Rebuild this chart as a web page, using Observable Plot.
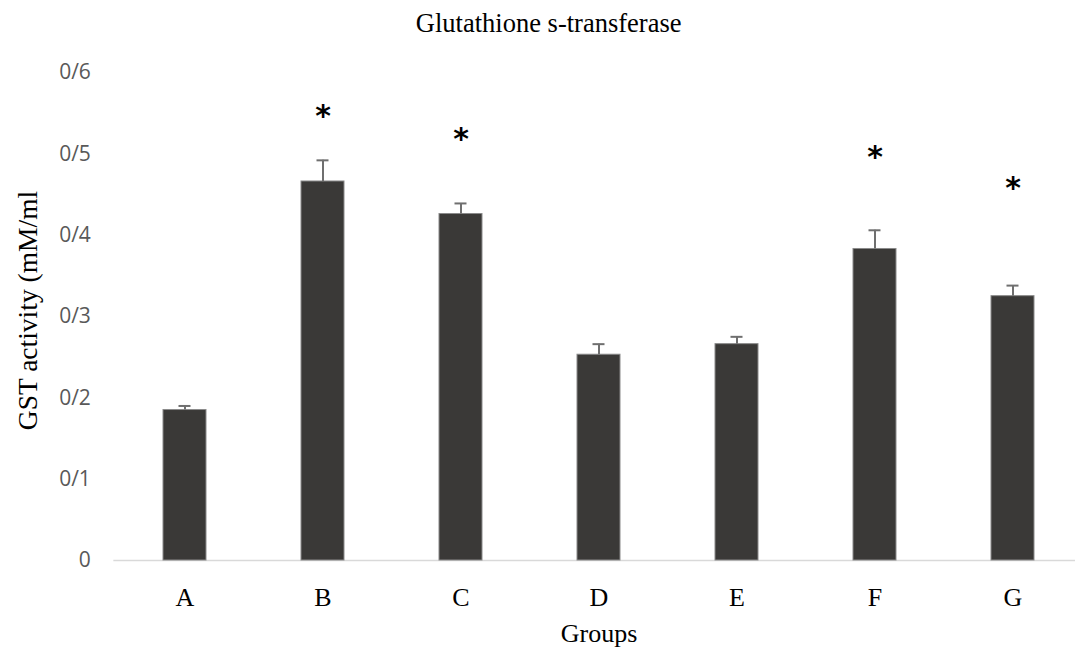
<!DOCTYPE html>
<html>
<head>
<meta charset="utf-8">
<script src="https://cdn.jsdelivr.net/npm/d3@7"></script>
<script src="https://cdn.jsdelivr.net/npm/@observablehq/plot@0.6"></script>
<style>
  html, body { margin: 0; padding: 0; background: #fff; }
  #chart svg { display: block; }
</style>
</head>
<body>
<div id="chart"></div>
<script>
const titleText = "Glutathione s-transferase";
const yLabel = "GST activity (mM/ml";
const xLabel = "Groups";
const groups = ["A", "B", "C", "D", "E", "F", "G"];
const means = [0.185, 0.466, 0.426, 0.253, 0.266, 0.383, 0.325];
const errors = [0.005, 0.026, 0.013, 0.013, 0.009, 0.023, 0.013];
const starGroups = ["B", "C", "F", "G"];
const starLevels = [0.553, 0.525, 0.502, 0.464];
const yTicks = [0, 0.1, 0.2, 0.3, 0.4, 0.5, 0.6];
const yTickLabels = ["0", "0/1", "0/2", "0/3", "0/4", "0/5", "0/6"];

const data = groups.map((g, i) => ({group: g, mean: means[i], top: means[i] + errors[i]}));
const stars = starGroups.map((g, i) => ({group: g, level: starLevels[i], label: "*"}));

const serif = "'Liberation Serif', 'Times New Roman', serif";
const sans = "'Open Sans', 'Noto Sans', sans-serif";

const chart = Plot.plot({
  width: 1075,
  height: 648,
  marginLeft: 113.35,
  marginRight: 0,
  marginTop: 72,
  marginBottom: 88,
  style: {background: "#fff", overflow: "visible"},
  x: {domain: groups, range: [113.35, 1084.3], paddingInner: 0.69, paddingOuter: 0.345, align: 0.5},
  y: {domain: [0, 0.6]},
  marks: [
    Plot.ruleY([0], {stroke: "#d9d9d9", strokeWidth: 1.5}),
    Plot.barY(data, {x: "group", y: "mean", fill: "#3a3937", stroke: "#8a8a8a", strokeWidth: 1}),
    Plot.ruleX(data, {x: "group", y1: "mean", y2: "top", stroke: "#6f6f6f", strokeWidth: 2}),
    Plot.tickY(data, {x: "group", y: "top", stroke: "#6f6f6f", strokeWidth: 2, insetLeft: 15.5, insetRight: 15.5}),
    Plot.text(stars, {x: "group", y: "level", text: "label", fontFamily: "'DejaVu Sans', sans-serif", fontWeight: "bold", fontSize: 30, fill: "#000", lineAnchor: "bottom", dy: 15}),
    Plot.axisY({ticks: yTicks, tickFormat: (d) => yTickLabels[yTicks.indexOf(d)], tickSize: 0, tickPadding: 23, fontSize: 21, fontFamily: sans, fill: "#595959", label: null}),
    Plot.axisX({tickSize: 0, tickPadding: 27, fontSize: 26, fontFamily: serif, fill: "#000", label: null}),
    Plot.text([xLabel], {x: () => "D", y: () => 0, text: d => d, lineAnchor: "bottom", dy: 81, fontSize: 26, fontFamily: serif, fill: "#000"}),
    Plot.text([titleText], {frameAnchor: "top", text: d => d, lineAnchor: "bottom", dx: -46, dy: -40.5, fontSize: 26.5, fontFamily: serif, fill: "#000"}),
    Plot.text([yLabel], {frameAnchor: "left", text: d => d, rotate: -90, lineAnchor: "bottom", textAnchor: "middle", dx: -76.65, dy: -6, fontSize: 27.5, fontFamily: serif, fill: "#000"})
  ]
});
document.getElementById("chart").appendChild(chart);
</script>
</body>
</html>
